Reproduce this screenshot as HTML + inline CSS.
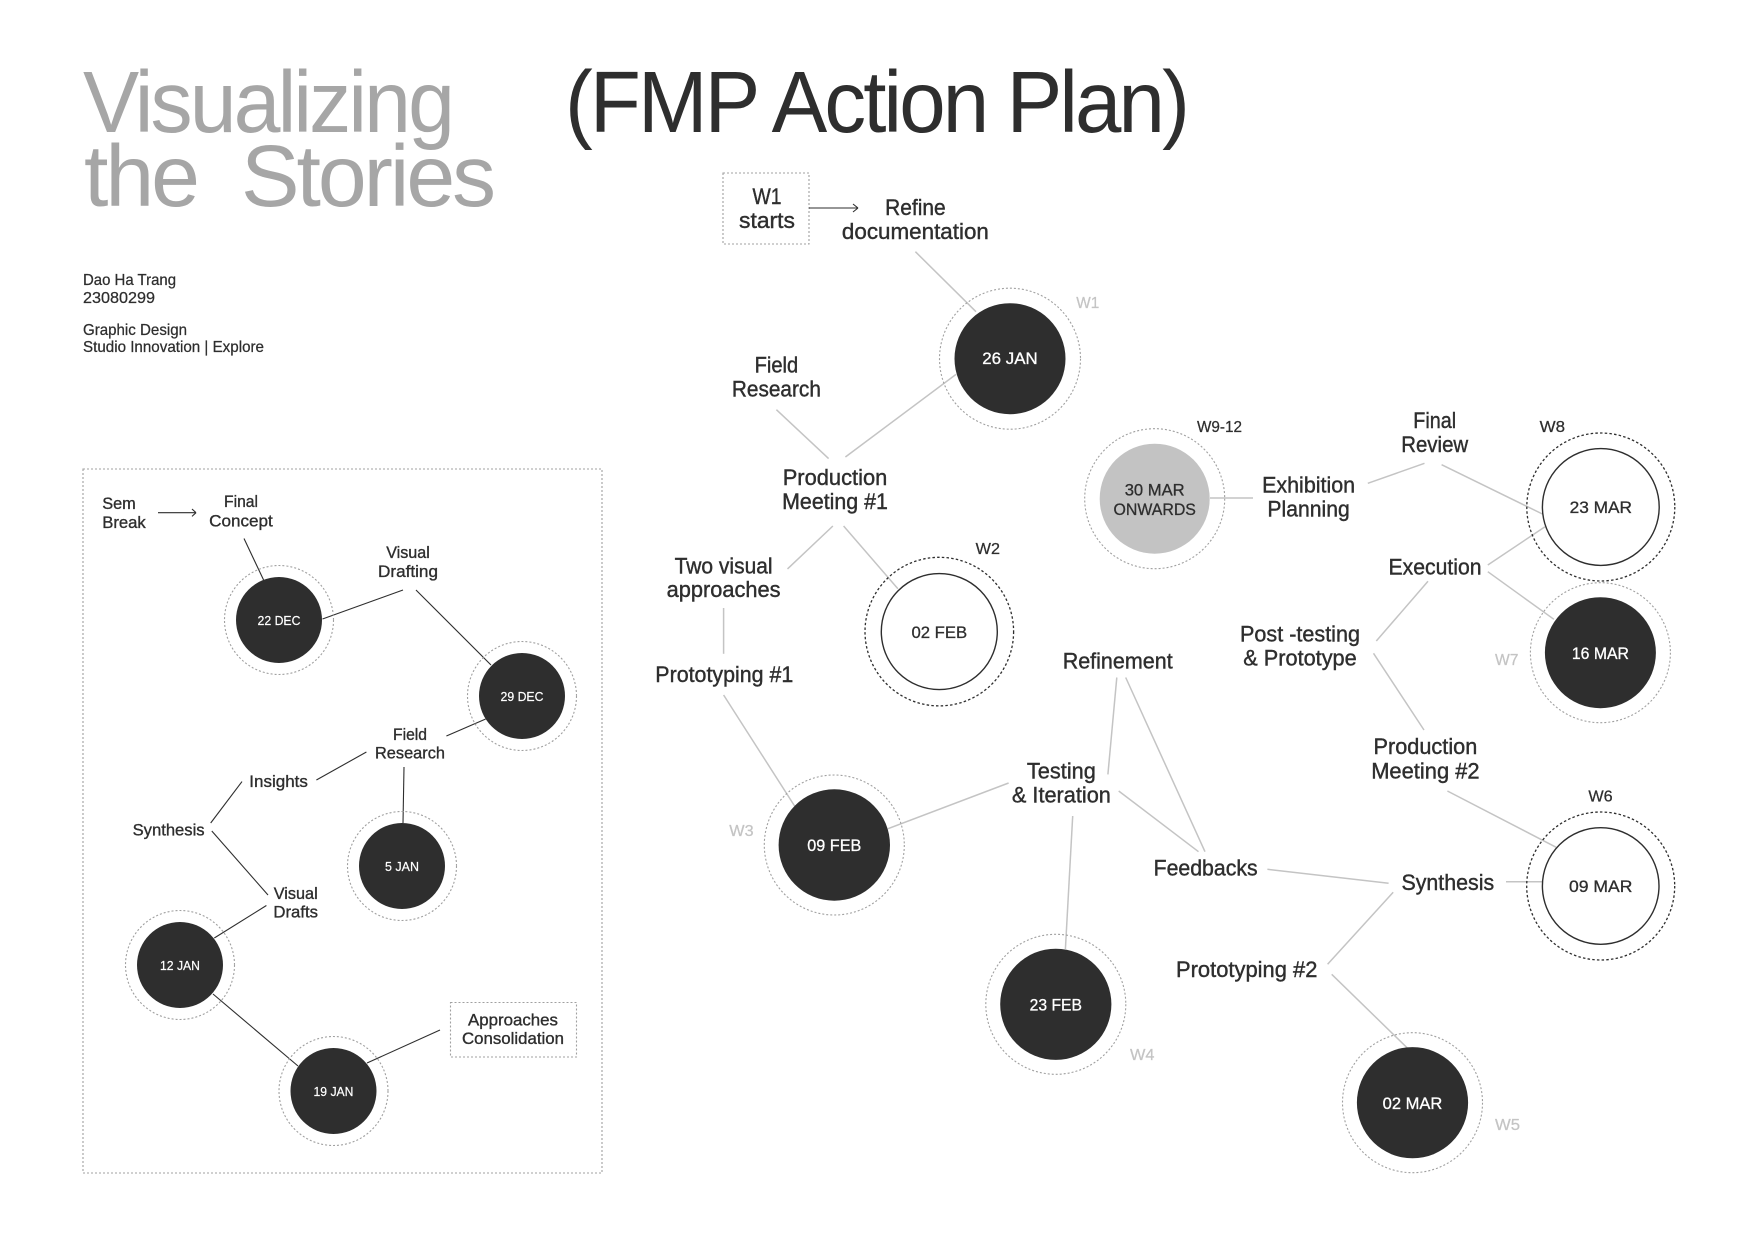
<!DOCTYPE html>
<html lang="en"><head><meta charset="utf-8"><title>Visualizing the Stories (FMP Action Plan)</title>
<style>
html,body{margin:0;padding:0;background:#fff}
svg{display:block}
text{font-family:"Liberation Sans",sans-serif;fill:#2e2e2e}
.m{font-size:22px;text-anchor:middle;stroke:#2e2e2e;stroke-width:.4}
.p{font-size:17px;text-anchor:middle;stroke:#2e2e2e;stroke-width:.35}
.c{font-size:17px;text-anchor:middle;stroke:#2e2e2e;stroke-width:.3}
.cw{font-size:17px;text-anchor:middle;fill:#fff;stroke:#fff;stroke-width:.3}
.s{font-size:13px;text-anchor:middle;fill:#fff;stroke:#fff;stroke-width:.2}
.w{font-size:16px;stroke:#2e2e2e;stroke-width:.25}
.g{font-size:16px;fill:#c4c4c4;stroke:#c4c4c4;stroke-width:.25}
.i{font-size:16px;stroke:#2e2e2e;stroke-width:.25}
.t{font-size:87px;letter-spacing:-3px}
.gl line{stroke:#c4c4c4;stroke-width:1.5}
.dl line{stroke:#2e2e2e;stroke-width:1.1}
.r{fill:none;stroke:#a0a0a0;stroke-width:1.1;stroke-dasharray:2 2}
.rd{fill:none;stroke:#2e2e2e;stroke-width:1.3;stroke-dasharray:2.5 2.2}
.b{fill:none;stroke:#a0a0a0;stroke-width:1.1;stroke-dasharray:2 2}
</style></head><body>
<svg width="1756" height="1238" viewBox="0 0 1756 1238" xmlns="http://www.w3.org/2000/svg">
<rect width="1756" height="1238" fill="#fff"/>
<text class="t" x="83" y="132" textLength="369" lengthAdjust="spacingAndGlyphs" style="fill:#a6a6a6">Visualizing</text>
<text class="t" x="84" y="206" textLength="113" lengthAdjust="spacingAndGlyphs" style="fill:#a6a6a6">the</text>
<text class="t" x="241" y="206" textLength="252" lengthAdjust="spacingAndGlyphs" style="fill:#a6a6a6">Stories</text>
<text class="t" x="565" y="132" textLength="622" lengthAdjust="spacingAndGlyphs">(FMP Action Plan)</text>
<text class="i" x="83" y="285" textLength="93" lengthAdjust="spacingAndGlyphs">Dao Ha Trang</text>
<text class="i" x="83" y="303" textLength="72" lengthAdjust="spacingAndGlyphs">23080299</text>
<text class="i" x="83" y="335" textLength="104" lengthAdjust="spacingAndGlyphs">Graphic Design</text>
<text class="i" x="83" y="352" textLength="181" lengthAdjust="spacingAndGlyphs">Studio Innovation | Explore</text>

<!-- left panel -->
<rect class="b" x="83" y="469" width="519" height="704"/>
<rect class="b" x="450.5" y="1002.5" width="126" height="54.5"/>
<g class="dl">
<line x1="244" y1="538.5" x2="263.6" y2="580"/>
<line x1="322.5" y1="619" x2="403" y2="590"/>
<line x1="416" y1="590" x2="491" y2="665"/>
<line x1="485.7" y1="719" x2="446.4" y2="736"/>
<line x1="366.4" y1="752" x2="316.4" y2="780"/>
<line x1="404" y1="767" x2="403" y2="823"/>
<line x1="242" y1="781.6" x2="210.7" y2="823"/>
<line x1="211.8" y1="831" x2="268" y2="895"/>
<line x1="266.4" y1="905.5" x2="214.3" y2="938"/>
<line x1="213" y1="994" x2="298" y2="1066"/>
<line x1="367" y1="1063" x2="440" y2="1030"/>
<line x1="158" y1="512.7" x2="196" y2="512.7"/>
<line x1="192" y1="509" x2="196" y2="512.7"/>
<line x1="192" y1="516.4" x2="196" y2="512.7"/>
</g>
<g>
<circle class="r" cx="279" cy="620" r="54.5"/><circle cx="279" cy="620" r="43" fill="#2e2e2e"/>
<circle class="r" cx="522" cy="696" r="54.5"/><circle cx="522" cy="696" r="43" fill="#2e2e2e"/>
<circle class="r" cx="402" cy="866" r="54.5"/><circle cx="402" cy="866" r="43" fill="#2e2e2e"/>
<circle class="r" cx="180" cy="965" r="54.5"/><circle cx="180" cy="965" r="43" fill="#2e2e2e"/>
<circle class="r" cx="333.5" cy="1091" r="54.5"/><circle cx="333.5" cy="1091" r="43" fill="#2e2e2e"/>
</g>
<text class="s" x="279" y="625" textLength="43" lengthAdjust="spacingAndGlyphs">22 DEC</text>
<text class="s" x="522" y="701" textLength="43" lengthAdjust="spacingAndGlyphs">29 DEC</text>
<text class="s" x="402" y="871" textLength="34" lengthAdjust="spacingAndGlyphs">5 JAN</text>
<text class="s" x="180" y="970" textLength="40" lengthAdjust="spacingAndGlyphs">12 JAN</text>
<text class="s" x="333.5" y="1096" textLength="40" lengthAdjust="spacingAndGlyphs">19 JAN</text>
<text class="p" x="119" y="509" textLength="33.6" lengthAdjust="spacingAndGlyphs">Sem</text>
<text class="p" x="124" y="528" textLength="43.6" lengthAdjust="spacingAndGlyphs">Break</text>
<text class="p" x="241" y="507" textLength="34" lengthAdjust="spacingAndGlyphs">Final</text>
<text class="p" x="241" y="526.5" textLength="63.6" lengthAdjust="spacingAndGlyphs">Concept</text>
<text class="p" x="408" y="558" textLength="43.6" lengthAdjust="spacingAndGlyphs">Visual</text>
<text class="p" x="408" y="577" textLength="60" lengthAdjust="spacingAndGlyphs">Drafting</text>
<text class="p" x="410" y="740" textLength="34" lengthAdjust="spacingAndGlyphs">Field</text>
<text class="p" x="410" y="758.6" textLength="70" lengthAdjust="spacingAndGlyphs">Research</text>
<text class="p" x="278.6" y="787" textLength="58.6" lengthAdjust="spacingAndGlyphs">Insights</text>
<text class="p" x="168.6" y="835.6" textLength="72" lengthAdjust="spacingAndGlyphs">Synthesis</text>
<text class="p" x="295.7" y="899" textLength="44" lengthAdjust="spacingAndGlyphs">Visual</text>
<text class="p" x="295.7" y="917.5" textLength="44.6" lengthAdjust="spacingAndGlyphs">Drafts</text>
<text class="p" x="513" y="1025.6" textLength="90" lengthAdjust="spacingAndGlyphs">Approaches</text>
<text class="p" x="513" y="1044" textLength="102" lengthAdjust="spacingAndGlyphs">Consolidation</text>

<!-- main diagram -->
<rect class="b" x="723" y="173" width="86" height="71"/>
<g class="dl">
<line x1="809" y1="208" x2="858" y2="208"/>
<line x1="853" y1="204" x2="858" y2="208"/>
<line x1="853" y1="212" x2="858" y2="208"/>
</g>
<g class="gl">
<line x1="915.4" y1="251.7" x2="976" y2="311.7"/>
<line x1="776.4" y1="409.7" x2="828.6" y2="458.6"/>
<line x1="845.4" y1="457" x2="956" y2="374.4"/>
<line x1="832.9" y1="526" x2="787.5" y2="568.9"/>
<line x1="843.6" y1="526" x2="897.9" y2="588.8"/>
<line x1="723.6" y1="608" x2="723.6" y2="653.8"/>
<line x1="723.6" y1="695" x2="794.6" y2="806"/>
<line x1="888" y1="828.7" x2="1008.6" y2="783"/>
<line x1="1116.8" y1="677.5" x2="1107.9" y2="774.4"/>
<line x1="1125.7" y1="677.5" x2="1205" y2="851.7"/>
<line x1="1118.7" y1="791" x2="1198.5" y2="851.7"/>
<line x1="1072.7" y1="816" x2="1065.4" y2="949"/>
<line x1="1267.4" y1="869.3" x2="1388.6" y2="883.3"/>
<line x1="1506" y1="881.7" x2="1542.4" y2="881.7"/>
<line x1="1447.4" y1="791" x2="1556.2" y2="847.3"/>
<line x1="1393.2" y1="892.3" x2="1327.6" y2="964.3"/>
<line x1="1331.7" y1="974.3" x2="1407" y2="1047.7"/>
<line x1="1210" y1="498" x2="1253" y2="498"/>
<line x1="1367.8" y1="483.3" x2="1424.5" y2="463.3"/>
<line x1="1441.6" y1="464.7" x2="1542.4" y2="514"/>
<line x1="1545" y1="526.7" x2="1487.8" y2="565"/>
<line x1="1487.8" y1="571.7" x2="1553.9" y2="619.3"/>
<line x1="1428" y1="581.3" x2="1376.3" y2="641"/>
<line x1="1373.5" y1="653.3" x2="1424" y2="730"/>
</g>
<circle class="r" cx="1010" cy="358.7" r="70.5"/><circle cx="1010" cy="358.7" r="55.5" fill="#2e2e2e"/>
<circle class="r" cx="834.3" cy="845" r="70"/><circle cx="834.3" cy="845" r="55.7" fill="#2e2e2e"/>
<circle class="r" cx="1055.8" cy="1004.3" r="70"/><circle cx="1055.8" cy="1004.3" r="55.6" fill="#2e2e2e"/>
<circle class="r" cx="1412.5" cy="1102.7" r="70"/><circle cx="1412.5" cy="1102.7" r="55.6" fill="#2e2e2e"/>
<circle class="r" cx="1600.4" cy="652.7" r="70"/><circle cx="1600.4" cy="652.7" r="55.5" fill="#2e2e2e"/>
<circle class="r" cx="1154.7" cy="498.7" r="70"/><circle cx="1154.7" cy="498.7" r="55" fill="#c3c3c3"/>
<circle class="rd" cx="939.3" cy="631.6" r="74.3"/><circle cx="939.3" cy="631.6" r="58" fill="none" stroke="#2e2e2e" stroke-width="1.4"/>
<circle class="rd" cx="1600.7" cy="886" r="74"/><circle cx="1600.7" cy="886" r="58.3" fill="none" stroke="#2e2e2e" stroke-width="1.4"/>
<circle class="rd" cx="1600.8" cy="507" r="74"/><circle cx="1600.8" cy="507" r="58.4" fill="none" stroke="#2e2e2e" stroke-width="1.4"/>

<text class="cw" x="1010" y="364" textLength="55.5" lengthAdjust="spacingAndGlyphs">26 JAN</text>
<text class="cw" x="834.3" y="851" textLength="54" lengthAdjust="spacingAndGlyphs">09 FEB</text>
<text class="cw" x="1055.8" y="1010.7" textLength="52.3" lengthAdjust="spacingAndGlyphs">23 FEB</text>
<text class="cw" x="1412.5" y="1109" textLength="59.7" lengthAdjust="spacingAndGlyphs">02 MAR</text>
<text class="cw" x="1600.4" y="659" textLength="57" lengthAdjust="spacingAndGlyphs">16 MAR</text>
<text class="c" x="939.3" y="638" textLength="55.7" lengthAdjust="spacingAndGlyphs">02 FEB</text>
<text class="c" x="1600.7" y="892" textLength="63.4" lengthAdjust="spacingAndGlyphs">09 MAR</text>
<text class="c" x="1600.8" y="513" textLength="62.4" lengthAdjust="spacingAndGlyphs">23 MAR</text>
<text class="c" x="1154.7" y="495.7" textLength="60" lengthAdjust="spacingAndGlyphs">30 MAR</text>
<text class="c" x="1154.7" y="515" textLength="82.4" lengthAdjust="spacingAndGlyphs">ONWARDS</text>

<text class="g" x="1076.3" y="308" textLength="23" lengthAdjust="spacingAndGlyphs">W1</text>
<text class="g" x="729.3" y="836" textLength="24.3" lengthAdjust="spacingAndGlyphs">W3</text>
<text class="g" x="1130" y="1060" textLength="24.5" lengthAdjust="spacingAndGlyphs">W4</text>
<text class="g" x="1495" y="1130" textLength="25" lengthAdjust="spacingAndGlyphs">W5</text>
<text class="g" x="1495" y="665" textLength="23.4" lengthAdjust="spacingAndGlyphs">W7</text>
<text class="w" x="975.7" y="554" textLength="24.3" lengthAdjust="spacingAndGlyphs">W2</text>
<text class="w" x="1588.4" y="801.7" textLength="24.3" lengthAdjust="spacingAndGlyphs">W6</text>
<text class="w" x="1539.6" y="432" textLength="25.4" lengthAdjust="spacingAndGlyphs">W8</text>
<text class="w" x="1197" y="432" textLength="45" lengthAdjust="spacingAndGlyphs">W9-12</text>

<text class="m" x="767" y="204" textLength="29" lengthAdjust="spacingAndGlyphs">W1</text>
<text class="m" x="767" y="228" textLength="56" lengthAdjust="spacingAndGlyphs">starts</text>
<text class="m" x="915.4" y="215" textLength="60.5" lengthAdjust="spacingAndGlyphs">Refine</text>
<text class="m" x="915.4" y="239" textLength="147" lengthAdjust="spacingAndGlyphs">documentation</text>
<text class="m" x="776.4" y="372.5" textLength="43.6" lengthAdjust="spacingAndGlyphs">Field</text>
<text class="m" x="776.4" y="396.6" textLength="89" lengthAdjust="spacingAndGlyphs">Research</text>
<text class="m" x="835" y="485" textLength="104.6" lengthAdjust="spacingAndGlyphs">Production</text>
<text class="m" x="835" y="509" textLength="105.7" lengthAdjust="spacingAndGlyphs">Meeting #1</text>
<text class="m" x="723.6" y="573.4" textLength="98" lengthAdjust="spacingAndGlyphs">Two visual</text>
<text class="m" x="723.6" y="597" textLength="114" lengthAdjust="spacingAndGlyphs">approaches</text>
<text class="m" x="724.3" y="682" textLength="138" lengthAdjust="spacingAndGlyphs">Prototyping #1</text>
<text class="m" x="1061.4" y="778.5" textLength="69" lengthAdjust="spacingAndGlyphs">Testing</text>
<text class="m" x="1061.4" y="802.5" textLength="99" lengthAdjust="spacingAndGlyphs">&amp; Iteration</text>
<text class="m" x="1117.7" y="668.4" textLength="110" lengthAdjust="spacingAndGlyphs">Refinement</text>
<text class="m" x="1205.6" y="875.7" textLength="104" lengthAdjust="spacingAndGlyphs">Feedbacks</text>
<text class="m" x="1447.8" y="890" textLength="92.7" lengthAdjust="spacingAndGlyphs">Synthesis</text>
<text class="m" x="1425.4" y="754" textLength="103.8" lengthAdjust="spacingAndGlyphs">Production</text>
<text class="m" x="1425.4" y="778.3" textLength="108.4" lengthAdjust="spacingAndGlyphs">Meeting #2</text>
<text class="m" x="1246.7" y="977" textLength="141.4" lengthAdjust="spacingAndGlyphs">Prototyping #2</text>
<text class="m" x="1308.6" y="492.7" textLength="93" lengthAdjust="spacingAndGlyphs">Exhibition</text>
<text class="m" x="1308.6" y="516.7" textLength="82.4" lengthAdjust="spacingAndGlyphs">Planning</text>
<text class="m" x="1434.7" y="428" textLength="42.9" lengthAdjust="spacingAndGlyphs">Final</text>
<text class="m" x="1434.7" y="452" textLength="67" lengthAdjust="spacingAndGlyphs">Review</text>
<text class="m" x="1435" y="574.3" textLength="93" lengthAdjust="spacingAndGlyphs">Execution</text>
<text class="m" x="1300" y="641.7" textLength="120" lengthAdjust="spacingAndGlyphs">Post -testing</text>
<text class="m" x="1300" y="665.7" textLength="113.4" lengthAdjust="spacingAndGlyphs">&amp; Prototype</text>
</svg>
</body></html>
